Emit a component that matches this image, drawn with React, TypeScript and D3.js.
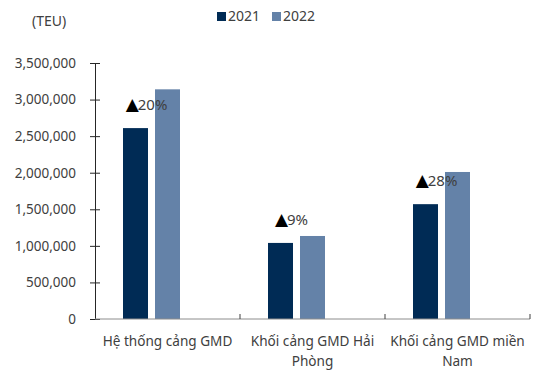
import * as d3 from "d3";
import React, { useEffect, useRef } from "react";

const categories = ["Hệ thống cảng GMD", "Khối cảng GMD Hải Phòng", "Khối cảng GMD miền Nam"];
const categoryLines = [["Hệ thống cảng GMD"], ["Khối cảng GMD Hải", "Phòng"], ["Khối cảng GMD miền", "Nam"]];
const series2021 = [2610000, 1040000, 1570000];
const series2022 = [3140000, 1135000, 2010000];
const growth = ["20%", "9%", "28%"];
const yTicks = [0, 500000, 1000000, 1500000, 2000000, 2500000, 3000000, 3500000];
const seriesNames = ["2021", "2022"];
const colors = ["#002b55", "#6482a8"];

const W = 536;
const H = 374;

const App = () => {
  const svgRef = useRef<SVGSVGElement>(null);

  useEffect(() => {
    const svg = d3.select(svgRef.current);
    svg.selectAll("*").remove();

    const margin = { top: 63, right: 6, bottom: 55, left: 95 };
    const width = W - margin.left - margin.right;
    const height = H - margin.top - margin.bottom;
    const font = "'Noto Sans', sans-serif";

    const g = svg.append("g").attr("transform", `translate(${margin.left},${margin.top})`);

    const x = d3.scaleBand().domain(categories).range([0, width]).padding(0);
    const y = d3.scaleLinear().domain([0, 3500000]).range([height, 0]);

    const barW = 25;
    const gap = 7;
    const offset = 28;

    // bars
    [series2021, series2022].forEach((vals, si) => {
      g.selectAll(`.bar${si}`)
        .data(vals)
        .enter()
        .append("rect")
        .attr("x", (d, i) => (x(categories[i]) as number) + offset + si * (barW + gap))
        .attr("y", (d) => y(d))
        .attr("width", barW)
        .attr("height", (d) => height - y(d))
        .attr("fill", colors[si]);
    });

    // y axis
    const yAxis = g
      .append("g")
      .call(d3.axisLeft(y).tickValues(yTicks).tickSize(5).tickFormat(d3.format(",")));
    yAxis.select(".domain").attr("stroke", "#262626");
    yAxis.selectAll(".tick line").attr("stroke", "#262626").attr("x1", 5).attr("x2", -5);
    yAxis
      .selectAll(".tick text")
      .attr("x", -19)
      .attr("fill", "#404040")
      .style("font-family", font)
      .style("font-size", "13.5px");

    // x axis
    g.append("line")
      .attr("x1", 0)
      .attr("x2", width)
      .attr("y1", height)
      .attr("y2", height)
      .attr("stroke", "#8c8c8c");
    categories.forEach((c) => {
      const xe = (x(c) as number) + x.bandwidth();
      g.append("line")
        .attr("x1", xe)
        .attr("x2", xe)
        .attr("y1", height)
        .attr("y2", height - 5)
        .attr("stroke", "#404040");
    });

    // category labels
    categories.forEach((c, i) => {
      const cx = (x(c) as number) + x.bandwidth() / 2;
      const t = g
        .append("text")
        .attr("text-anchor", "middle")
        .attr("fill", "#404040")
        .style("font-family", font)
        .style("font-size", "13.6px");
      categoryLines[i].forEach((line, li) => {
        t.append("tspan")
          .attr("x", cx)
          .attr("y", height + 27 + li * 20)
          .text(line);
      });
    });

    // growth annotations
    growth.forEach((p, i) => {
      const cx = (x(categories[i]) as number) + offset + barW + gap / 2 - 5;
      const t = g
        .append("text")
        .attr("x", cx)
        .attr("y", y(series2021[i]) - 18)
        .attr("text-anchor", "middle")
        .style("font-family", font)
        .style("font-size", "15px");
      t.append("tspan")
        .attr("fill", "#000")
        .style("font-family", "'DejaVu Sans', sans-serif")
        .style("font-size", "17px")
        .text("▲");
      t.append("tspan").attr("fill", "#404040").attr("dx", -1).text(p);
    });

    // unit label
    svg
      .append("text")
      .attr("x", 32)
      .attr("y", 26)
      .attr("fill", "#404040")
      .style("font-family", font)
      .style("font-size", "14px")
      .text("(TEU)");

    // legend
    const legendX = [217, 272];
    seriesNames.forEach((s, i) => {
      svg
        .append("rect")
        .attr("x", legendX[i])
        .attr("y", 12)
        .attr("width", 9)
        .attr("height", 9)
        .attr("fill", colors[i]);
      svg
        .append("text")
        .attr("x", legendX[i] + 11)
        .attr("y", 21)
        .attr("fill", "#404040")
        .style("font-family", font)
        .style("font-size", "14px")
        .text(s);
    });
  }, []);

  return (
    <div style={{ position: "absolute", left: 0, top: 0 }}>
      <svg ref={svgRef} width={W} height={H} style={{ display: "block", background: "#fff" }}></svg>
    </div>
  );
};

export default App;
